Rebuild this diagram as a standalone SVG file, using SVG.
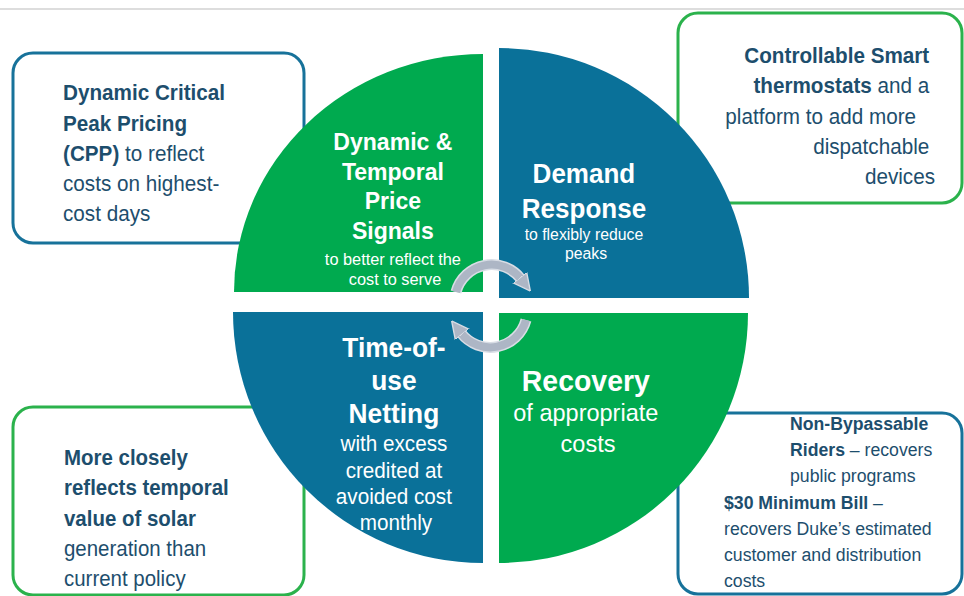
<svg xmlns="http://www.w3.org/2000/svg" width="964" height="596" viewBox="0 0 964 596">
<style>
text{font-family:"Liberation Sans",Arial,sans-serif;}
.bx{fill:#1d4e6d;font-size:22px;}
.sm{font-size:19px;}
.b{font-weight:bold;}
.q{fill:#ffffff;text-anchor:middle;}
.box{fill:#ffffff;stroke-width:3;}
.bb{stroke:#17729a;}
.gb{stroke:#2bb24c;}
.green{fill:#00aa4f;}
.blue{fill:#0a7199;}
.arrow-under{fill:none;stroke:#d8dde5;stroke-width:11;}
.arrow{fill:none;stroke:#adb6c5;stroke-width:8;}
</style>
<defs>
<marker id="ah" viewBox="0 0 10 10" refX="1" refY="5" markerWidth="17" markerHeight="22" markerUnits="userSpaceOnUse" orient="auto">
<path d="M0,0 L10,5 L0,10 Z" fill="#adb6c5" stroke="#d8dde5" stroke-width="0.8"/>
</marker>
</defs>
<line x1="0" y1="9" x2="964" y2="9" stroke="#d2d2d2" stroke-width="1.5"/>

<g id="box-cpp">
<rect class="box bb" x="13" y="53" width="291" height="190" rx="20"/>
</g>
<g id="box-thermostats">
<rect class="box gb" x="678" y="13" width="284" height="190" rx="20"/>
</g>
<g id="box-solar">
<rect class="box gb" x="13" y="407" width="291" height="188" rx="20"/>
</g>
<g id="box-riders">
<rect class="box bb" x="678" y="413" width="284" height="181" rx="20"/>
</g>

<g id="quad-price">
<path class="green" d="M483,292 L234,292 A249,238 0 0 1 483,54 Z"/>
</g>
<g id="quad-demand">
<path class="blue" d="M499,298 L499,48 A250,250 0 0 1 749,298 Z"/>
</g>
<g id="quad-netting">
<path class="blue" d="M483,312 L483,563 A250,251 0 0 1 233,312 Z"/>
</g>
<g id="quad-recovery">
<path class="green" d="M499,313 L748,313 A249,250 0 0 1 499,563 Z"/>
</g>

<text class="bx" transform="translate(63,100) scale(0.94,1)">
<tspan x="0" y="0" class="b">Dynamic Critical</tspan>
<tspan x="0" y="31" class="b">Peak Pricing</tspan>
<tspan x="0" y="61"><tspan class="b">(CPP)</tspan> to reflect</tspan>
<tspan x="0" y="91">costs on highest-</tspan>
<tspan x="0" y="121">cost days</tspan>
</text>

<text class="bx" text-anchor="end" transform="translate(935,63) scale(0.94,1)">
<tspan x="0" y="0" class="b">Controllable Smart</tspan>
<tspan x="0" y="30"><tspan class="b">thermostats</tspan> and a</tspan>
<tspan x="-14" y="61">platform to add more</tspan>
<tspan x="0" y="91">dispatchable</tspan>
<tspan x="0" y="121">devices</tspan>
</text>

<text class="bx" transform="translate(64,465) scale(0.93,1)">
<tspan x="0" y="0" class="b">More closely</tspan>
<tspan x="0" y="30" class="b">reflects temporal</tspan>
<tspan x="0" y="61" class="b">value of solar</tspan>
<tspan x="0" y="91">generation than</tspan>
<tspan x="0" y="121">current policy</tspan>
</text>

<text class="bx sm" transform="translate(724,430) scale(0.93,1)">
<tspan x="71" y="0" class="b">Non-Bypassable</tspan>
<tspan x="71" y="26"><tspan class="b">Riders</tspan> – recovers</tspan>
<tspan x="71" y="52">public programs</tspan>
<tspan x="0" y="79"><tspan class="b">$30 Minimum Bill</tspan> –</tspan>
<tspan x="0" y="105">recovers Duke’s estimated</tspan>
<tspan x="0" y="131">customer and distribution</tspan>
<tspan x="0" y="157">costs</tspan>
</text>

<text class="q" transform="translate(395,0) scale(0.96,1)">
<tspan x="0" y="150" class="b" font-size="24">Dynamic &amp;</tspan>
<tspan x="0" y="180" class="b" font-size="24">Temporal</tspan>
<tspan x="0" y="209" class="b" font-size="24">Price</tspan>
<tspan x="0" y="239" class="b" font-size="24">Signals</tspan>
<tspan x="0" y="265" font-size="17">to better reflect the</tspan>
<tspan x="0" y="285" font-size="17">cost to serve</tspan>
</text>

<text class="q" transform="translate(586,0) scale(0.93,1)">
<tspan x="0" y="183" class="b" font-size="28">Demand</tspan>
<tspan x="0" y="218" class="b" font-size="28">Response</tspan>
<tspan x="0" y="240" font-size="17">to flexibly reduce</tspan>
<tspan x="0" y="259" font-size="17">peaks</tspan>
</text>

<text class="q" transform="translate(396,0) scale(0.94,1)">
<tspan x="0" y="357" class="b" font-size="28">Time-of-</tspan>
<tspan x="0" y="390" class="b" font-size="28">use</tspan>
<tspan x="0" y="423" class="b" font-size="28">Netting</tspan>
<tspan x="0" y="451" font-size="22">with excess</tspan>
<tspan x="0" y="478" font-size="22">credited at</tspan>
<tspan x="0" y="504" font-size="22">avoided cost</tspan>
<tspan x="0" y="530" font-size="22">monthly</tspan>
</text>

<text class="q" transform="translate(588,0) scale(0.98,1)">
<tspan x="0" y="391" class="b" font-size="29">Recovery</tspan>
<tspan x="0" y="421" font-size="24">of appropriate</tspan>
<tspan x="0" y="452" font-size="24">costs</tspan>
</text>

<g id="connectors">
<path class="arrow-under" d="M456,292 A37,37 0 0 1 521,279"/>
<path class="arrow" d="M456,292 A37,37 0 0 1 521,279" marker-end="url(#ah)"/>
<path class="arrow-under" d="M526,320 A37,37 0 0 1 461,333"/>
<path class="arrow" d="M526,320 A37,37 0 0 1 461,333" marker-end="url(#ah)"/>
</g>
</svg>
